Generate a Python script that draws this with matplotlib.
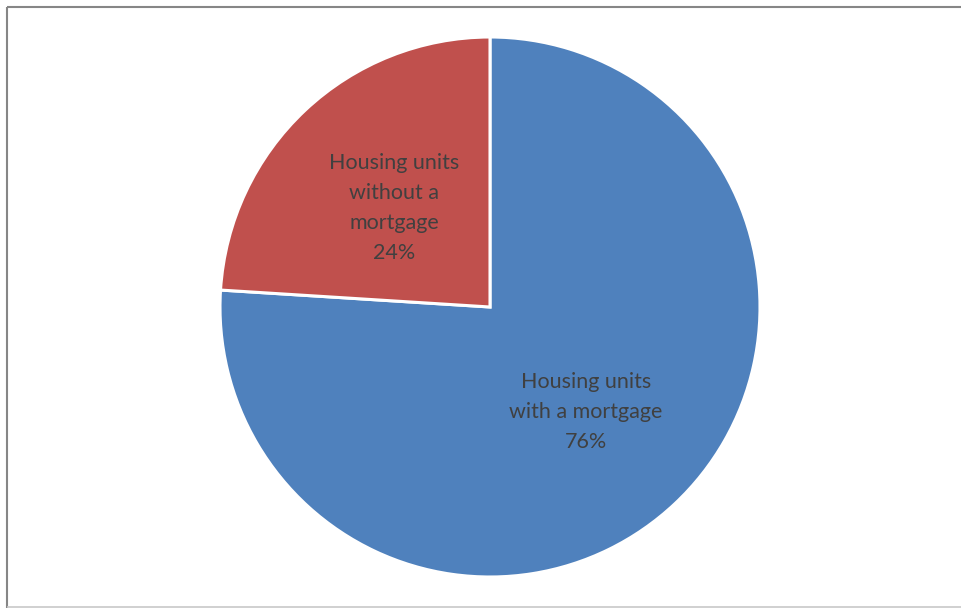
import matplotlib
matplotlib.use("Agg")
import matplotlib.pyplot as plt
import numpy as np

# data
categories = ["Housing units\nwith a mortgage", "Housing units\nwithout a\nmortgage"]
shares = [76, 24]
colors = ["#4F81BD", "#C0504D"]

W, H = 962, 608
fig = plt.figure(figsize=(W / 100, H / 100), dpi=100, facecolor="white")
ax = fig.add_axes([0, 0, 1, 1])

# chart frame (cropped on the right)
ax.plot([7.5, W], [H - 6.5, H - 6.5], color="#868686", lw=1.5, solid_capstyle="butt")
ax.plot([7.5, 7.5], [H - 6.5, 0], color="#868686", lw=1.5, solid_capstyle="butt")
ax.plot([7.5, W], [1.5, 1.5], color="#c8c8c8", lw=1.2, solid_capstyle="butt")

cx, cy, r = 490, H - 307, 270
wedges, _ = ax.pie(shares, colors=colors, startangle=90, counterclock=False,
                   center=(cx, cy), radius=r, frame=True,
                   wedgeprops=dict(edgecolor="white", linewidth=2.2))
ax.set_xlim(0, W)
ax.set_ylim(0, H)
ax.set_aspect("equal")
ax.axis("off")

for w, cat, val in zip(wedges, categories, shares):
    mid = np.deg2rad((w.theta1 + w.theta2) / 2)
    dist = 0.52 * r
    ax.text(cx + dist * np.cos(mid), cy + dist * np.sin(mid) - 3, f"{cat}\n{val}%",
            ha="center", va="center", fontsize=15.5, color="#404040",
            family="Lato", linespacing=1.62)

fig.savefig("out.png", dpi=100, facecolor="white")
